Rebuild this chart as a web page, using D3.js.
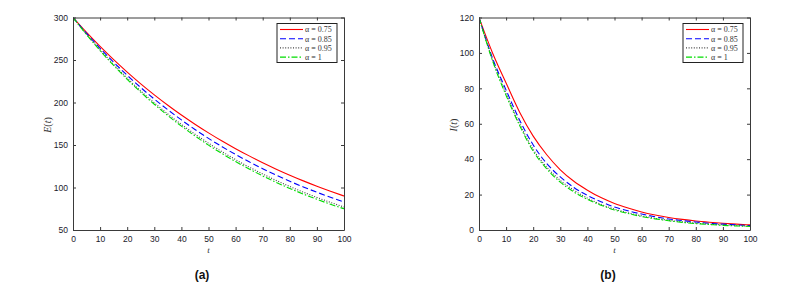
<!DOCTYPE html>
<html><head><meta charset="utf-8">
<script src="https://cdn.jsdelivr.net/npm/d3@7"></script>
<style>body{margin:0;background:#fff}svg{display:block}</style>
</head><body><svg id="c" width="808" height="284"></svg>
<script>
const tValues = [0,5,10,15,20,25,30,35,40,45,50,55,60,65,70,75,80,85,90,95,100];
const alphaLabels = ["α = 0.75","α = 0.85","α = 0.95","α = 1"];
const E_075 = [300,282.5,266,250.4,235.8,222,209,196.8,185.3,174.5,164.3,154.7,145.7,137.2,129.1,121.6,114.5,107.8,101.5,95.6,90];
const E_085 = [300,281.3,263.8,247.4,232,217.6,204,191.4,179.5,168.3,157.8,148,138.8,130.2,122.1,114.5,107.3,100.7,94.4,88.5,83];
const E_095 = [300,280.3,261.9,244.7,228.6,213.6,199.6,186.5,174.2,162.8,152.1,142.1,132.8,124,115.9,108.3,101.2,94.5,88.3,82.5,77];
const E_1   = [300,279.9,261.1,243.6,227.3,212.1,197.9,184.6,172.2,160.7,149.9,139.9,130.5,121.8,113.6,106,98.9,92.3,86.1,80.3,75];
const I_075 = [120,100,83,66.5,53,42.5,34,27.5,22.5,18.3,15,12.4,10.2,8.5,7.1,6,5.1,4.4,3.8,3.3,2.9];
const I_085 = [120,97,79,62,48,37.5,30,24,19.5,16,13,10.8,9,7.5,6.2,5.3,4.5,3.8,3.3,2.9,2.5];
const I_095 = [120,96,77,60,45.5,35.5,28,22.5,18,14.5,11.8,9.7,8,6.6,5.5,4.6,3.9,3.3,2.9,2.5,2.2];
const I_1   = [120,95.5,76,59,44.5,34.5,27,21.5,17.3,14,11.3,9.3,7.6,6.3,5.2,4.3,3.6,3.1,2.6,2.3,2.0];
const xTicks = [0,10,20,30,40,50,60,70,80,90,100];
const eTicks = [50,100,150,200,250,300];
const iTicks = [0,20,40,60,80,100,120];

const styles = [
  {color:"#ff0000", dash:null, w:1.1},
  {color:"#0000ff", dash:"6,3", w:1.1},
  {color:"#444444", dash:"1,1.6", w:1.1},
  {color:"#00dd00", dash:"6,2,1.5,2", w:1.1}
];

const svg = d3.select("#c");

function panel(opt){
  const g = svg.append("g");
  const x = d3.scaleLinear().domain([0,100]).range([opt.x0, opt.x1]);
  const y = d3.scaleLinear().domain(opt.ydom).range([230, 17.5]);
  const line = d3.line().x((d,i)=>x(tValues[i])).y(d=>y(d)).curve(d3.curveMonotoneX);
  const clipId = "clip"+opt.id;
  g.append("clipPath").attr("id",clipId).append("rect")
    .attr("x",opt.x0).attr("y",17.5).attr("width",opt.x1-opt.x0).attr("height",230-17.5);
  opt.series.forEach((s,k)=>{
    g.append("path").attr("d",line(s)).attr("fill","none")
      .attr("clip-path",`url(#${clipId})`)
      .attr("stroke",styles[k].color).attr("stroke-width",styles[k].w)
      .attr("stroke-dasharray",styles[k].dash);
  });
  const tick = 3;
  const ax = g.append("g").attr("transform",`translate(0,230)`)
    .call(d3.axisBottom(x).tickValues(xTicks).tickSizeInner(-tick).tickSizeOuter(0).tickPadding(6));
  const axTop = g.append("g").attr("transform",`translate(0,17.5)`)
    .call(d3.axisTop(x).tickValues(xTicks).tickSizeInner(-tick).tickSizeOuter(0).tickFormat(""));
  const ay = g.append("g").attr("transform",`translate(${opt.x0},0)`)
    .call(d3.axisLeft(y).tickValues(opt.yticks).tickSizeInner(-tick).tickSizeOuter(0).tickPadding(5));
  const ayR = g.append("g").attr("transform",`translate(${opt.x1},0)`)
    .call(d3.axisRight(y).tickValues(opt.yticks).tickSizeInner(-tick).tickSizeOuter(0).tickFormat(""));
  [ax,axTop,ay,ayR].forEach(a=>{
    a.selectAll(".domain").attr("stroke","#3a3a3a").attr("stroke-width",1);
    a.selectAll(".tick line").attr("stroke","#3a3a3a");
    a.selectAll("text").attr("font-family","Liberation Sans, Arial, sans-serif")
      .attr("font-size","8.5px").attr("fill","#1a1a2a");
  });
  g.append("text").attr("x",(opt.x0+opt.x1)/2).attr("y",252.5)
    .attr("text-anchor","middle").attr("font-family","Liberation Serif, serif")
    .attr("font-style","italic").attr("font-size","9px").attr("fill","#333").text("t");
  g.append("text").attr("transform",`translate(${opt.x0-22},125) rotate(-90)`)
    .attr("text-anchor","middle").attr("font-family","Liberation Serif, serif")
    .attr("font-size","10px").attr("fill","#333")
    .html(`<tspan font-style="italic">${opt.ylab}</tspan>(<tspan font-style="italic">t</tspan>)`);
  const lx = opt.x1 - 67, ly = 23.5, lw = 60, lh = 39;
  const lg = g.append("g");
  lg.append("rect").attr("x",lx).attr("y",ly).attr("width",lw).attr("height",lh)
    .attr("fill","#fff").attr("stroke","#222").attr("stroke-width",1);
  alphaLabels.forEach((lab,k)=>{
    const yy = ly + 6 + k*9.2;
    lg.append("line").attr("x1",lx+3).attr("x2",lx+26).attr("y1",yy).attr("y2",yy)
      .attr("stroke",styles[k].color).attr("stroke-width",styles[k].w)
      .attr("stroke-dasharray",styles[k].dash);
    lg.append("text").attr("x",lx+28).attr("y",yy+2.8)
      .attr("font-family","Liberation Serif, serif").attr("font-size","8px").attr("fill","#333")
      .text(lab);
  });
  g.append("text").attr("x",opt.capx).attr("y",279).attr("text-anchor","middle")
    .attr("font-family","Liberation Sans, Arial, sans-serif").attr("font-weight","bold")
    .attr("font-size","12px").attr("fill","#111").text(opt.cap);
}

panel({id:"a", x0:73, x1:344, ydom:[50,300], yticks:eTicks, series:[E_075,E_085,E_095,E_1], ylab:"E", cap:"(a)", capx:202});
panel({id:"b", x0:479, x1:750, ydom:[0,120], yticks:iTicks, series:[I_075,I_085,I_095,I_1], ylab:"I", cap:"(b)", capx:608});
</script></body></html>
